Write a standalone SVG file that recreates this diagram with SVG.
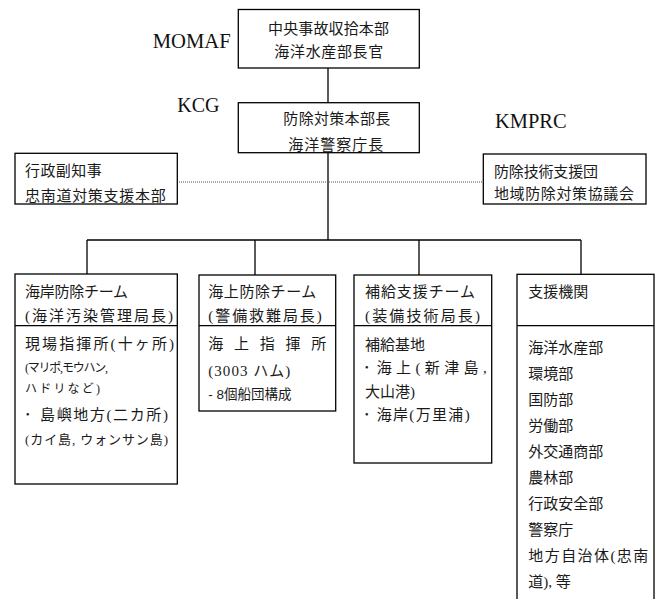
<svg xmlns="http://www.w3.org/2000/svg" width="659" height="599" viewBox="0 0 659 599">
<style>
  .box { fill: #fff; stroke: #000; stroke-width: 1.3; }
  .div { stroke: #000; stroke-width: 1.3; }
  .line { stroke: #000; stroke-width: 1.3; fill: none; }
  .dot { stroke: #555; stroke-width: 1; stroke-dasharray: 1 1; fill: none; }
  .t { font-family: "Liberation Serif", "Noto Sans CJK JP", serif; font-size: 15px; fill: #1a1a1a; }
  .s { font-size: 12px; }
  .m { font-size: 13px; }
  .lat { font-family: "Liberation Serif", "Times New Roman", serif; font-size: 20px; fill: #111; }
  .g { font-family: "Liberation Sans", "Noto Sans CJK JP", sans-serif; font-size: 13.5px; fill: #1a1a1a; }
</style>
<rect width="659" height="599" fill="#fff"/>

<g id="connectors">
  <line class="line" x1="328" y1="68" x2="328" y2="103"/>
  <line class="line" x1="328" y1="153" x2="328" y2="240"/>
  <line class="line" x1="87" y1="240" x2="581" y2="240"/>
  <line class="line" x1="87" y1="240" x2="87" y2="274"/>
  <line class="line" x1="255" y1="240" x2="255" y2="275"/>
  <line class="line" x1="419" y1="240" x2="419" y2="275"/>
  <line class="line" x1="581" y1="240" x2="581" y2="274"/>
  <line class="dot" x1="177" y1="182" x2="483" y2="182"/>
</g>

<g id="labels">
  <text class="lat" x="152.7" y="48.3" textLength="78" lengthAdjust="spacingAndGlyphs">MOMAF</text>
  <text class="lat" x="177.3" y="111.7">KCG</text>
  <text class="lat" x="495" y="128" textLength="71.5" lengthAdjust="spacingAndGlyphs">KMPRC</text>
</g>

<g id="hq">
  <rect class="box" x="238.3" y="9.5" width="181" height="58.5"/>
  <text class="t" x="268" y="33.7" textLength="121" lengthAdjust="spacing">中央事故収拾本部</text>
  <text class="t" x="274.3" y="56.7" textLength="109" lengthAdjust="spacing">海洋水産部長官</text>
</g>

<g id="kcg">
  <rect class="box" x="238.3" y="102.7" width="181" height="50"/>
  <text class="t" x="283.3" y="124" textLength="107" lengthAdjust="spacing">防除対策本部長</text>
  <text class="t" x="288.3" y="150" textLength="95" lengthAdjust="spacing">海洋警察庁長</text>
</g>

<g id="vice-governor">
  <rect class="box" x="15" y="153.3" width="162.3" height="50.7"/>
  <text class="t" x="25" y="175.7" textLength="76.7" lengthAdjust="spacing">行政副知事</text>
  <text class="t" x="25" y="200.5" textLength="140.7" lengthAdjust="spacing">忠南道対策支援本部</text>
</g>

<g id="kmprc">
  <rect class="box" x="483.3" y="154" width="162.7" height="50"/>
  <text class="t" x="494" y="176.5" textLength="104" lengthAdjust="spacing">防除技術支援団</text>
  <text class="t" x="494" y="199.2" textLength="140" lengthAdjust="spacing">地域防除対策協議会</text>
</g>

<g id="coast-team">
  <rect class="box" x="15" y="274" width="162.3" height="210"/>
  <line class="div" x1="15" y1="325.7" x2="177.3" y2="325.7"/>
  <text class="t" x="25" y="296.7" textLength="103" lengthAdjust="spacing">海岸防除チーム</text>
  <text class="t" x="25" y="320.7" textLength="148" lengthAdjust="spacing">(海洋汚染管理局長)</text>
  <text class="t" x="25" y="348.7" textLength="149" lengthAdjust="spacing">現場指揮所(十ヶ所)</text>
  <text class="t s" x="25" y="371.5" textLength="83" lengthAdjust="spacing">(マリポ,モウハン,</text>
  <text class="t s" x="25" y="392.7" textLength="75" lengthAdjust="spacing">ハドリなど)</text>
  <text class="t" x="24" y="419.7">･</text>
  <text class="t" x="40" y="419.7" textLength="128" lengthAdjust="spacing">島嶼地方(二カ所)</text>
  <text class="t m" x="25" y="443.8" textLength="143" lengthAdjust="spacing">(カイ島, ウォンサン島)</text>
</g>

<g id="sea-team">
  <rect class="box" x="199" y="275" width="136.7" height="136"/>
  <line class="div" x1="199" y1="325.7" x2="335.7" y2="325.7"/>
  <text class="t" x="208.3" y="296.7" textLength="108" lengthAdjust="spacing">海上防除チーム</text>
  <text class="t" x="208.3" y="320.7" textLength="113.5" lengthAdjust="spacing">(警備救難局長)</text>
  <text class="t" x="208.3" y="348.7" textLength="118" lengthAdjust="spacing">海 上 指 揮 所</text>
  <text class="t" x="208.3" y="375.7" textLength="82" lengthAdjust="spacing">(3003 ハム)</text>
  <text class="g" x="208.3" y="399">- 8個船団構成</text>
</g>

<g id="supply-team">
  <rect class="box" x="354" y="275" width="137.7" height="188"/>
  <line class="div" x1="354" y1="325.7" x2="491.7" y2="325.7"/>
  <text class="t" x="365" y="296.7" textLength="110" lengthAdjust="spacing">補給支援チーム</text>
  <text class="t" x="365" y="320.7" textLength="115" lengthAdjust="spacing">(装備技術局長)</text>
  <text class="t" x="365" y="349.7">補給基地</text>
  <text class="t" x="363" y="372.7">･</text>
  <text class="t" x="376.7" y="372.7" textLength="110" lengthAdjust="spacing">海上(新津島,</text>
  <text class="t" x="365" y="396.7">大山港)</text>
  <text class="t" x="363" y="419.7">･</text>
  <text class="t" x="376.7" y="419.7" textLength="93" lengthAdjust="spacing">海岸(万里浦)</text>
</g>

<g id="support-agencies">
  <rect class="box" x="517" y="274.3" width="137" height="330"/>
  <line class="div" x1="517" y1="325.7" x2="654" y2="325.7"/>
  <text class="t" x="528.3" y="296.7">支援機関</text>
  <text class="t" x="528.3" y="352.6">海洋水産部</text>
  <text class="t" x="528.3" y="378.6">環境部</text>
  <text class="t" x="528.3" y="404.6">国防部</text>
  <text class="t" x="528.3" y="430.6">労働部</text>
  <text class="t" x="528.3" y="456.6">外交通商部</text>
  <text class="t" x="528.3" y="482.6">農林部</text>
  <text class="t" x="528.3" y="508.6">行政安全部</text>
  <text class="t" x="528.3" y="534.6">警察庁</text>
  <text class="t" x="528.3" y="560.6" textLength="120" lengthAdjust="spacing">地方自治体(忠南</text>
  <text class="t" x="528.3" y="586.6">道), 等</text>
</g>
</svg>
